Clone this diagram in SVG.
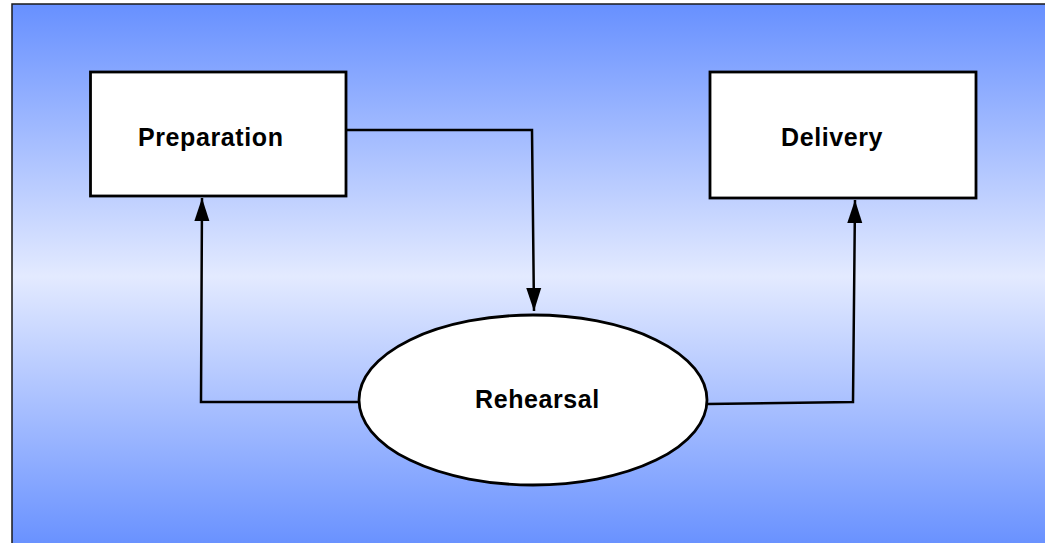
<svg xmlns="http://www.w3.org/2000/svg" width="1045" height="543" viewBox="0 0 1045 543">
  <defs>
    <linearGradient id="bg" x1="0" y1="0" x2="0" y2="1">
      <stop offset="0" stop-color="#6790ff"/>
      <stop offset="0.5" stop-color="#e3eaff"/>
      <stop offset="1" stop-color="#6790ff"/>
    </linearGradient>
    <marker id="arrow" markerUnits="userSpaceOnUse" markerWidth="24" markerHeight="16" refX="23" refY="8" orient="auto">
      <path d="M0,0.5 L23,8 L0,15.5 z" fill="#000"/>
    </marker>
    <style>
      .node { fill: #fff; stroke: #000; stroke-width: 2.8; }
      .label { font-family: "Liberation Sans", Arial, sans-serif; font-weight: bold; font-size: 25px; letter-spacing: 0.6px; fill: #000; }
      .conn { fill: none; stroke: #000; stroke-width: 2.5; marker-end: url(#arrow); }
    </style>
  </defs>
  <rect x="12" y="4" width="1040" height="545" fill="url(#bg)" stroke="#1a1a1a" stroke-width="1.5"/>
  <g id="connectors">
    <path class="conn" d="M346,130 L532,130 L534,311"/>
    <path class="conn" d="M360,402 L201,402 L202,198"/>
    <path class="conn" d="M707,404 L853,402 L855,200"/>
  </g>
  <g id="preparation">
    <rect class="node" x="90.5" y="72" width="255.5" height="124"/>
    <text class="label" x="138" y="146">Preparation</text>
  </g>
  <g id="delivery">
    <rect class="node" x="710" y="72" width="266" height="126"/>
    <text class="label" x="781" y="146">Delivery</text>
  </g>
  <g id="rehearsal">
    <ellipse class="node" cx="533" cy="400" rx="174" ry="85"/>
    <text class="label" x="475" y="408">Rehearsal</text>
  </g>
</svg>
